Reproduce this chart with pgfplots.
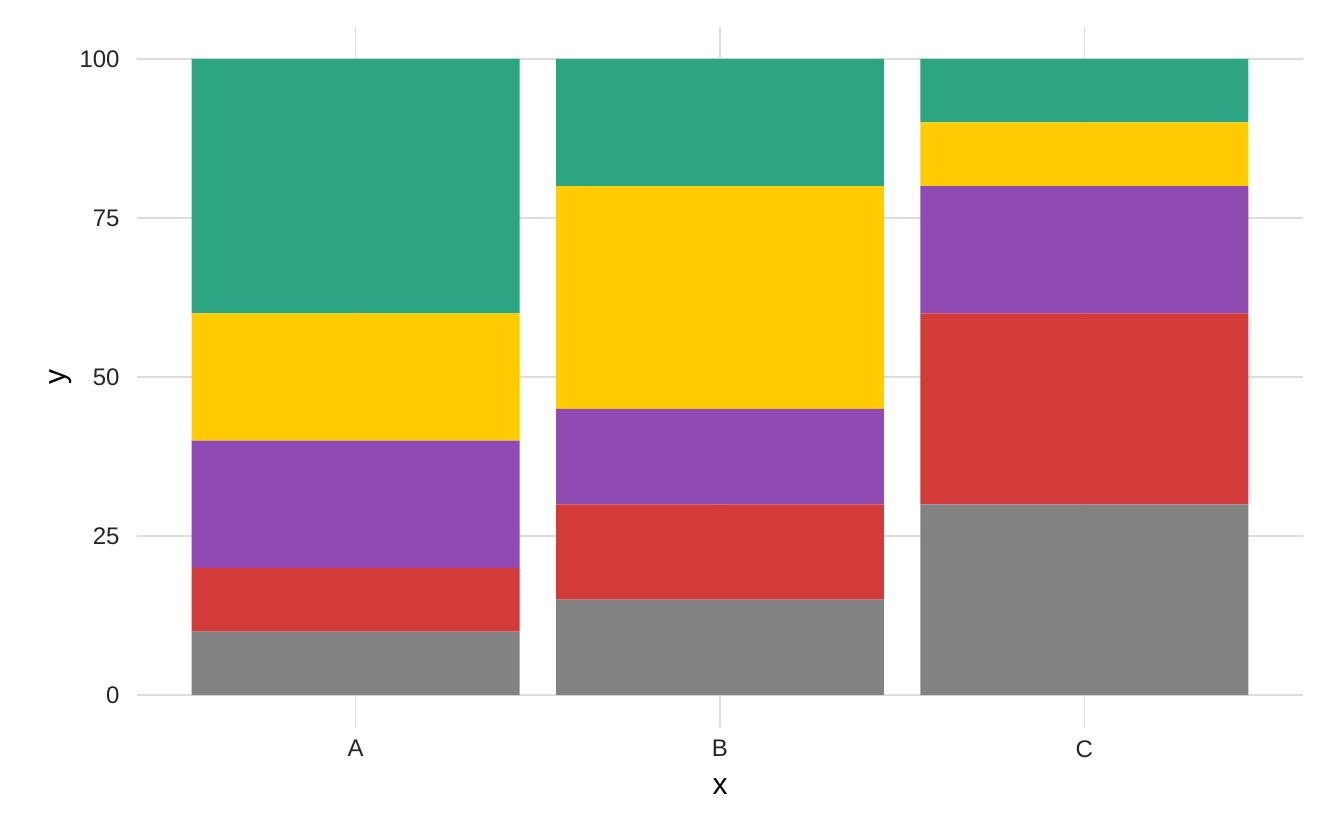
\documentclass[border=0pt]{standalone}
\usepackage{fontspec}
\setmainfont{Liberation Sans}
\usepackage{pgfplots}
\pgfplotsset{compat=1.18}
\definecolor{cgray}{HTML}{828282}
\definecolor{cred}{HTML}{D33A3A}
\definecolor{cpurple}{HTML}{8F4AB3}
\definecolor{cyellow}{HTML}{FFCC00}
\definecolor{cgreen}{HTML}{2CA680}
\definecolor{cgrid}{HTML}{DDDDDD}
\begin{document}
\begin{tikzpicture}
\useasboundingbox (-68.5pt,-51.5pt) rectangle (603.5pt,363.5pt);
\begin{axis}[
  at={(0,0)}, anchor=south west,
  scale only axis, width=583pt, height=350pt,
  xmin=0.4, xmax=3.6, ymin=-5, ymax=105,
  ybar stacked, bar width=0.9,
  axis line style={draw=none},
  xtick={1,2,3}, xticklabels={A,B,C},
  ytick={0,25,50,75,100},
  major tick length=0pt,
  grid=major,
  major grid style={draw=cgrid, line width=0.75pt},
  /pgf/number format/assume math mode=true,
  tick label style={font=\fontsize{12}{14}\selectfont, text=black!85, inner sep=0pt},
  yticklabel style={anchor=east, xshift=-8.5pt},
  xticklabel style={anchor=north, yshift=-6.5pt},
  xlabel={x}, ylabel={y},
  label style={font=\fontsize{15}{18}\selectfont, inner sep=0pt},
  xlabel style={at={(axis description cs:0.5,0)}, anchor=north, yshift=-25.5pt},
  ylabel style={at={(axis description cs:0,0.5)}, anchor=south, yshift=32.5pt},
  every axis plot/.append style={draw=none},
]
\addplot[fill=cgray] coordinates {(1,10) (2,15) (3,30)};
\addplot[fill=cred] coordinates {(1,10) (2,15) (3,30)};
\addplot[fill=cpurple] coordinates {(1,20) (2,15) (3,20)};
\addplot[fill=cyellow] coordinates {(1,20) (2,35) (3,10)};
\addplot[fill=cgreen] coordinates {(1,40) (2,20) (3,10)};
\end{axis}
\end{tikzpicture}
\end{document}
